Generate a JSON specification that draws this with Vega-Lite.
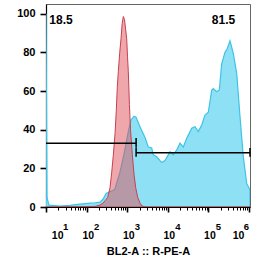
{
  "$schema": "https://vega.github.io/schema/vega-lite/v6.json",
  "autosize": {"type": "none"},
  "padding": {"left": 46, "top": 4, "right": 16, "bottom": 50},
  "width": 204,
  "height": 203,
  "background": "white",
  "config": {
    "view": {"stroke": "#666", "strokeWidth": 1},
    "font": "Liberation Sans"
  },
  "resolve": {"scale": {"x": "shared", "y": "shared"}, "axis": {"x": "independent"}},
  "datasets": {
    "blue": [
      {"v": 9.9, "c": 100}, {"v": 10.46, "c": 5}, {"v": 11.7, "c": 1}, {"v": 22.0, "c": 0.5},
      {"v": 38.7, "c": 0.8}, {"v": 68.2, "c": 1.5}, {"v": 119.9, "c": 2}, {"v": 160.2, "c": 2.2},
      {"v": 212.2, "c": 2.5}, {"v": 251.7, "c": 4}, {"v": 299.1, "c": 7}, {"v": 375.2, "c": 8},
      {"v": 444.8, "c": 8.5}, {"v": 498.2, "c": 9.5}, {"v": 557.5, "c": 13}, {"v": 660.1, "c": 18},
      {"v": 783.3, "c": 25}, {"v": 878.9, "c": 30}, {"v": 1058.8, "c": 39}, {"v": 1235, "c": 45},
      {"v": 1463, "c": 47}, {"v": 1639, "c": 46.5}, {"v": 1835, "c": 44}, {"v": 2057, "c": 41.5},
      {"v": 2729, "c": 36}, {"v": 3292, "c": 31}, {"v": 3995, "c": 30.5}, {"v": 4374, "c": 27},
      {"v": 5303, "c": 26}, {"v": 7050, "c": 23}, {"v": 8502, "c": 24}, {"v": 11290, "c": 28.6},
      {"v": 13610, "c": 27}, {"v": 16520, "c": 29.5}, {"v": 19920, "c": 33}, {"v": 24020, "c": 31},
      {"v": 29140, "c": 35.5}, {"v": 38680, "c": 40.7}, {"v": 46660, "c": 41.5}, {"v": 56260, "c": 39},
      {"v": 68230, "c": 42.4}, {"v": 82290, "c": 47.5}, {"v": 99290, "c": 49}, {"v": 120500, "c": 60.5},
      {"v": 131700, "c": 61.3}, {"v": 159800, "c": 59.6}, {"v": 185300, "c": 60.5}, {"v": 212200, "c": 74},
      {"v": 255900, "c": 80}, {"v": 291600, "c": 82}, {"v": 340100, "c": 86}, {"v": 410300, "c": 79.4},
      {"v": 497600, "c": 69}, {"v": 600300, "c": 46.7}, {"v": 723900, "c": 26}, {"v": 876600, "c": 12.2},
      {"v": 1058000, "c": 8.8}
    ],
    "red": [
      {"v": 9.9, "c": 0}, {"v": 22.0, "c": 0}, {"v": 67.7, "c": 0.2}, {"v": 160.2, "c": 0.3},
      {"v": 212.2, "c": 1}, {"v": 251.7, "c": 2}, {"v": 290.1, "c": 3.5}, {"v": 329.2, "c": 5},
      {"v": 375.2, "c": 10}, {"v": 413.0, "c": 18}, {"v": 452.8, "c": 27}, {"v": 498.2, "c": 38},
      {"v": 535.7, "c": 50}, {"v": 566.2, "c": 62}, {"v": 600.5, "c": 70}, {"v": 650.8, "c": 80},
      {"v": 699.2, "c": 87}, {"v": 748.2, "c": 95}, {"v": 796.9, "c": 98.5}, {"v": 853.1, "c": 97},
      {"v": 908.5, "c": 92}, {"v": 966.5, "c": 87}, {"v": 1010.7, "c": 78}, {"v": 1058.8, "c": 70},
      {"v": 1127, "c": 53}, {"v": 1199, "c": 40}, {"v": 1329, "c": 27}, {"v": 1463, "c": 17},
      {"v": 1610, "c": 10}, {"v": 1804, "c": 5}, {"v": 2057, "c": 2}, {"v": 2305, "c": 0.5},
      {"v": 2893, "c": 0}, {"v": 1058000, "c": 0}
    ],
    "gates": [
      {"x1": 9.9, "x2": 1648, "y": 33},
      {"x1": 1648, "x2": 1058000, "y": 28}
    ],
    "caps": [
      {"x": 1648, "y1": 30.6, "y2": 35.7},
      {"x": 1648, "y1": 26, "y2": 30.5},
      {"x": 1058000, "y1": 26, "y2": 30.5}
    ],
    "labels": [
      {"x": 23.2, "y": 96.6, "t": "18.5"},
      {"x": 235100, "y": 96.6, "t": "81.5"}
    ]
  },
  "layer": [
    {
      "data": {"name": "blue"},
      "mark": {"type": "area", "clip": true, "fill": "#8EE0F5", "fillOpacity": 1, "stroke": "#3EC3E6", "strokeWidth": 1.2},
      "encoding": {
        "x": {
          "field": "v", "type": "quantitative",
          "scale": {"type": "log", "domain": [9.9, 1058000], "nice": false},
          "axis": {
            "orient": "bottom",
            "values": [10,20,30,40,50,60,70,80,90,100,200,300,400,500,600,700,800,900,1000,2000,3000,4000,5000,6000,7000,8000,9000,10000,20000,30000,40000,50000,60000,70000,80000,90000,100000,200000,300000,400000,500000,600000,700000,800000,900000,1000000],
            "labelExpr": "abs(log(datum.value)/LN10 - round(log(datum.value)/LN10)) < 0.001 ? '10' : ''",
            "tickSize": {"condition": {"test": "abs(log(datum.value)/LN10 - round(log(datum.value)/LN10)) < 0.001", "value": 5}, "value": 3},
            "tickWidth": {"condition": {"test": "abs(log(datum.value)/LN10 - round(log(datum.value)/LN10)) < 0.001", "value": 1.6}, "value": 1},
            "labelOffset": {"condition": [{"test": "datum.value == 10", "value": 11}, {"test": "datum.value == 1000000", "value": -11}], "value": 1},
            "labelOverlap": false,
            "labelFlush": false,
            "grid": false,
            "domainColor": "black",
            "domainWidth": 1.2,
            "tickColor": "black",
            "labelColor": "black",
            "labelFont": "Liberation Sans",
            "labelFontWeight": "bold",
            "labelFontSize": 10.5,
            "labelPadding": 18,
            "title": "BL2-A :: R-PE-A",
            "titleFont": "Liberation Sans",
            "titleFontWeight": "bold",
            "titleFontSize": 11,
            "titleColor": "black",
            "titlePadding": 5
          }
        },
        "y": {
          "field": "c", "type": "quantitative",
          "scale": {"domain": [0, 105], "nice": false},
          "axis": {
            "values": [0,5,10,15,20,25,30,35,40,45,50,55,60,65,70,75,80,85,90,95,100],
            "labelExpr": "datum.value % 20 == 0 ? datum.label : ''",
            "tickSize": {"condition": {"test": "datum.value % 20 == 0", "value": 6}, "value": 3},
            "tickWidth": {"condition": {"test": "datum.value % 20 == 0", "value": 1.6}, "value": 1},
            "labelOverlap": false,
            "labelFlush": false,
            "grid": false,
            "domainColor": "black",
            "domainWidth": 1.2,
            "tickColor": "black",
            "labelColor": "black",
            "labelFont": "Liberation Sans",
            "labelFontWeight": "bold",
            "labelFontSize": 11,
            "labelPadding": 5,
            "title": null
          }
        }
      }
    },
    {
      "data": {"name": "red"},
      "mark": {"type": "area", "clip": true, "fill": "#E0505A", "fillOpacity": 0.5, "stroke": "#C84050", "strokeWidth": 1},
      "encoding": {
        "x": {
          "field": "v", "type": "quantitative",
          "axis": {
            "orient": "bottom",
            "values": [10,100,1000,10000,100000,1000000],
            "labelExpr": "datum.value==10?'1':datum.value==100?'2':datum.value==1000?'3':datum.value==10000?'4':datum.value==100000?'5':'6'",
            "labelOffset": {"condition": [{"test": "datum.value == 10", "value": 19}, {"test": "datum.value == 1000000", "value": -3}], "value": 9.5},
            "domain": false,
            "ticks": true,
            "tickSize": 5,
            "tickOpacity": 0,
            "grid": false,
            "labelOverlap": false,
            "labelFlush": false,
            "labelColor": "black",
            "labelFont": "Liberation Sans",
            "labelFontWeight": "bold",
            "labelFontSize": 9.5,
            "labelPadding": 9,
            "title": null
          }
        },
        "y": {"field": "c", "type": "quantitative"}
      }
    },
    {
      "data": {"name": "gates"},
      "mark": {"type": "rule", "color": "black", "strokeWidth": 1.5},
      "encoding": {
        "x": {"field": "x1", "type": "quantitative", "axis": null},
        "x2": {"field": "x2"},
        "y": {"field": "y", "type": "quantitative"}
      }
    },
    {
      "data": {"name": "caps"},
      "mark": {"type": "rule", "color": "black", "strokeWidth": 1.5},
      "encoding": {
        "x": {"field": "x", "type": "quantitative", "axis": null},
        "y": {"field": "y1", "type": "quantitative"},
        "y2": {"field": "y2"}
      }
    },
    {
      "data": {"name": "labels"},
      "mark": {"type": "text", "font": "Liberation Sans", "fontWeight": "bold", "fontSize": 12, "color": "black", "align": "center", "baseline": "middle"},
      "encoding": {
        "x": {"field": "x", "type": "quantitative", "axis": null},
        "y": {"field": "y", "type": "quantitative"},
        "text": {"field": "t"}
      }
    }
  ]
}
